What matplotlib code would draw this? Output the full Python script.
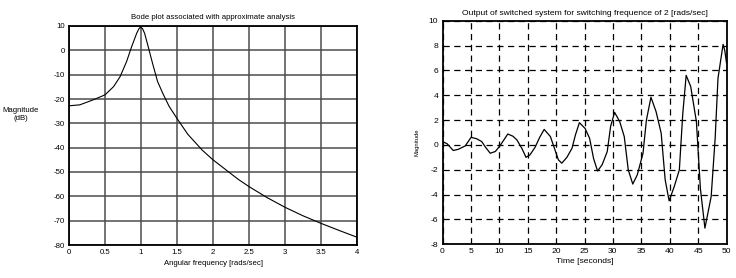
import matplotlib
matplotlib.use("Agg")
import matplotlib.pyplot as plt

plt.rcParams['font.family'] = ['Liberation Sans', 'DejaVu Sans']
plt.rcParams['axes.unicode_minus'] = False

# Left: Bode magnitude
w_vals = [0.0, 0.15, 0.34, 0.5, 0.62, 0.71, 0.80, 0.87, 0.94, 0.97, 0.99, 1.02, 1.05, 1.10,
          1.16, 1.23, 1.30, 1.39, 1.5, 1.65, 1.85, 2.0, 2.35, 2.5, 2.75, 3.0,
          3.25, 3.5, 3.75, 4.0]
mag_db = [-22.8, -22.4, -20.3, -18.3, -14.9, -10.8, -4.6, 1.5, 7.0, 8.8, 9.5, 9.0, 7.0, 1.5,
          -5.3, -12.8, -17.5, -23.0, -28.0, -34.5, -41.0, -45.0, -53.0, -56.0, -60.5, -64.5,
          -68.0, -71.1, -74.0, -76.8]

# Right: switched system output
t_vals = [0.0, 0.8, 1.9, 2.8, 4.0, 5.03, 6.0, 6.9, 7.6, 8.4, 9.3, 10.1, 11.5, 12.4, 13.1,
          14.0, 14.7, 15.4, 16.3, 17.1, 17.9, 19.0, 19.8, 20.4, 21.0, 21.9, 22.8, 23.4,
          24.1, 25.1, 25.9, 26.6, 27.3, 28.1, 29.0, 29.6, 30.3, 31.2, 32.0, 32.7, 33.5,
          34.3, 35.3, 35.9, 36.7, 37.6, 38.5, 39.2, 39.9, 40.8, 41.7, 42.3, 42.9, 43.7,
          44.7, 45.4, 46.2, 47.3, 48.0, 48.5, 49.4, 49.7, 50.0]
y_vals = [0.27, 0.1, -0.45, -0.35, -0.08, 0.61, 0.5, 0.27, -0.2, -0.67, -0.53, -0.08, 0.88, 0.7, 0.4,
          -0.3, -1.0, -0.8, -0.19, 0.6, 1.25, 0.67, -0.4, -1.2, -1.47, -1.0, -0.27, 0.8,
          1.79, 1.33, 0.53, -1.1, -2.1, -1.6, -0.54, 1.5, 2.62, 1.88, 0.67, -2.0, -3.15,
          -2.4, -0.67, 2.0, 3.84, 2.68, 0.94, -2.8, -4.5, -3.35, -2.0, 2.5, 5.6, 4.7,
          1.88, -3.5, -6.7, -4.16, 0.5, 5.36, 8.1, 7.6, 6.6]

left_xticks = [0, 0.5, 1, 1.5, 2, 2.5, 3, 3.5, 4]
left_xticklabels = ['0', '0.5', '1', '1.5', '2', '2.5', '3', '3.5', '4']
left_yticks = [-80, -70, -60, -50, -40, -30, -20, -10, 0, 10]
right_xticks = [0, 5, 10, 15, 20, 25, 30, 35, 40, 45, 50]
right_yticks = [-8, -6, -4, -2, 0, 2, 4, 6, 8, 10]

fig = plt.figure(figsize=(7.36, 2.78), dpi=100)
W, H = 736, 278

def ax_rect(x0, y0, x1, y1):
    return [x0 / W, 1 - y1 / H, (x1 - x0) / W, (y1 - y0) / H]

fs = 5.6
ax1 = fig.add_axes(ax_rect(69, 26, 357, 245))
ax1.plot(w_vals, mag_db, color='black', lw=0.8)
ax1.set_xlim(0, 4)
ax1.set_ylim(-80, 10)
ax1.set_xticks(left_xticks)
ax1.set_xticklabels(left_xticklabels)
ax1.set_yticks(left_yticks)
ax1.grid(True, color='0.3', lw=1.1, ls='-')
ax1.set_axisbelow(True)
ax1.tick_params(labelsize=fs, length=0, pad=3)
for s in ax1.spines.values():
    s.set_linewidth(1.3)
ax1.set_title('Bode plot associated with approximate analysis', fontsize=fs, pad=5)
ax1.set_xlabel('Angular frequency [rads/sec]', fontsize=fs, labelpad=3)
fig.text(21 / W, 1 - 115 / H, 'Magnitude\n(dB)', fontsize=fs, ha='center', va='center',
         multialignment='center')

fs2 = 6.1
ax2 = fig.add_axes(ax_rect(442.5, 20.7, 726.5, 244.3))
ax2.plot(t_vals, y_vals, color='black', lw=0.9)
ax2.set_xlim(0, 50)
ax2.set_ylim(-8, 10)
ax2.set_xticks(right_xticks)
ax2.set_yticks(right_yticks)
ax2.grid(True, color='black', lw=0.9, ls=(0, (5, 3.6)))
ax2.tick_params(labelsize=fs2, length=0, pad=3)
for s in ax2.spines.values():
    s.set_linewidth(1.3)
ax2.set_title('Output of switched system for switching frequence of 2 [rads/sec]', fontsize=fs2, pad=4)
ax2.set_xlabel('Time [seconds]', fontsize=fs2, labelpad=2)
fig.text(417 / W, 1 - 142 / H, 'Magnitude', fontsize=4.2, rotation=90, ha='center', va='center')

fig.savefig('out.png', dpi=100)
